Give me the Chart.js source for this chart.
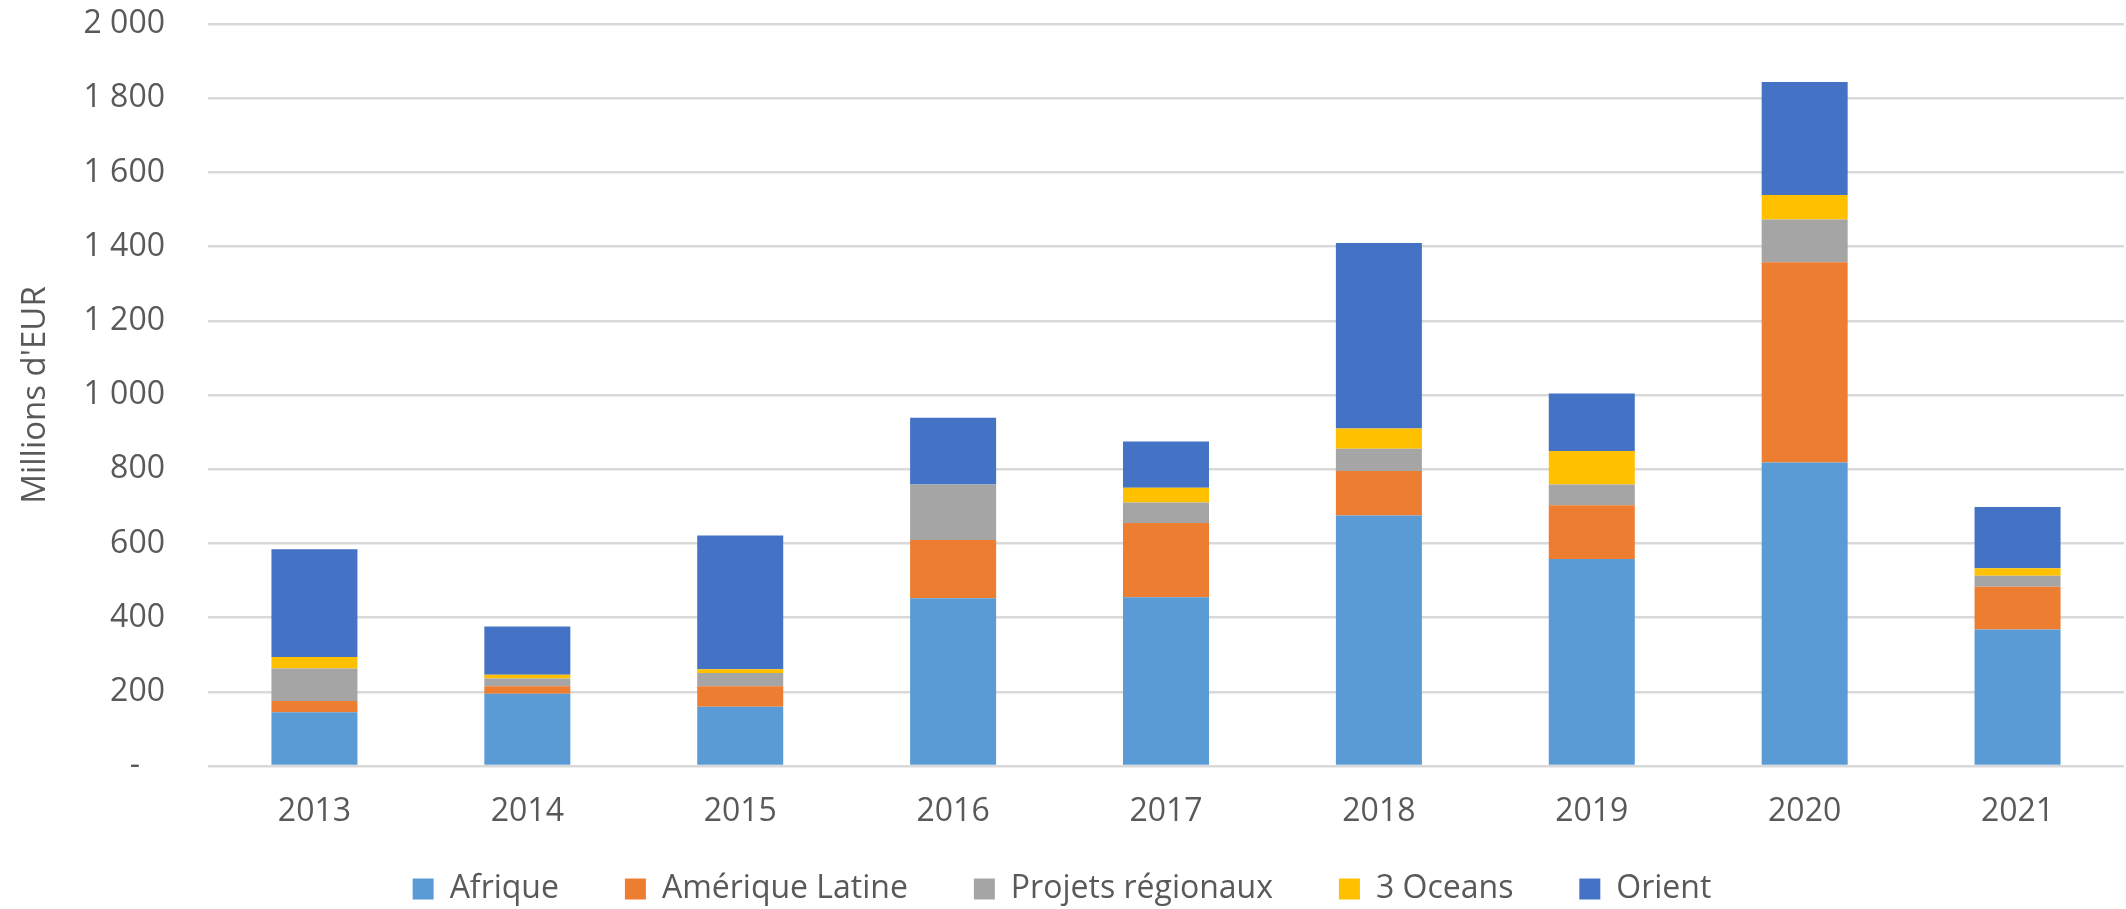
<!DOCTYPE html>
<html lang="fr">
<head>
<meta charset="utf-8">
<title>Millions d'EUR par région</title>
<script src="https://cdn.jsdelivr.net/npm/chart.js@4/dist/chart.umd.min.js"></script>
<style>
  html, body { margin: 0; padding: 0; background: #fff; }
  .contenitore { width: 2126px; height: 909px; position: relative; }
</style>
</head>
<body>
<div class="contenitore">
  <canvas id="grafico"></canvas>
</div>
<script>
const annees = ["2013", "2014", "2015", "2016", "2017", "2018", "2019", "2020", "2021"];

const afrique = [145, 195, 160, 452, 455, 675, 558, 818, 368];
const ameriqueLatine = [30, 20, 55, 157, 200, 120, 145, 540, 115];
const projetsRegionaux = [88, 21, 36, 150, 55, 60, 56, 115, 30];
const troisOceans = [31, 10, 10, 0, 40, 55, 90, 66, 20];
const orient = [290, 130, 360, 180, 125, 500, 155, 305, 165];

const yMin = 0;
const yMax = 2000;
const yPas = 200;

const grigio = '#595959';
const font = "'Open Sans', 'DejaVu Sans', sans-serif";

function formatMillier(v) {
    if (v === 0) {
        return '-   ';
    }
    return v.toString().replace(/\B(?=(\d{3})+(?!\d))/g, ' ');
}

const datiGrafico = {
    labels: annees,
    datasets: [
        { label: 'Afrique', data: afrique, backgroundColor: '#5B9BD5' },
        { label: 'Amérique Latine', data: ameriqueLatine, backgroundColor: '#ED7D31' },
        { label: 'Projets régionaux', data: projetsRegionaux, backgroundColor: '#A5A5A5' },
        { label: '3 Oceans', data: troisOceans, backgroundColor: '#FFC000' },
        { label: 'Orient', data: orient, backgroundColor: '#4472C4' }
    ]
};

const config = {
    type: 'bar',
    data: datiGrafico,
    options: {
        responsive: true,
        maintainAspectRatio: false,
        animation: false,
        datasets: {
            bar: {
                barPercentage: 0.404,
                categoryPercentage: 1.0
            }
        },
        layout: {
            padding: { top: 24, left: 0, right: 2, bottom: 0 }
        },
        plugins: {
            tooltip: { enabled: false },
            legend: {
                position: 'bottom',
                maxHeight: 77,
                labels: {
                    boxWidth: 21,
                    boxHeight: 21,
                    padding: 41,
                    color: grigio,
                    font: { family: font, size: 32 },
                    // un peu d'espace après chaque libellé (sauf le dernier), comme dans Excel
                    generateLabels: function (chart) {
                        const items = Chart.defaults.plugins.legend.labels.generateLabels(chart);
                        items.forEach((it, i) => {
                            if (i < items.length - 1) {
                                it.text = it.text + '   ';
                            }
                        });
                        return items;
                    }
                }
            }
        },
        scales: {
            x: {
                stacked: true,
                grid: { display: false, drawTicks: false },
                border: { display: false },
                ticks: {
                    color: grigio,
                    padding: 27,
                    font: { family: font, size: 32 }
                },
                afterFit: function (scala) {
                    scala.height = 66;
                }
            },
            y: {
                stacked: true,
                min: yMin,
                max: yMax,
                border: { display: false },
                grid: {
                    color: '#D9D9D9',
                    lineWidth: 2.5,
                    drawTicks: true,
                    tickLength: 39,
                    tickColor: 'rgba(0,0,0,0)'
                },
                ticks: {
                    stepSize: yPas,
                    color: grigio,
                    padding: 4,
                    font: { family: font, size: 32 },
                    callback: function (valore) {
                        return formatMillier(valore);
                    }
                },
                title: {
                    display: true,
                    text: "Millions d'EUR",
                    color: grigio,
                    padding: { top: 16, bottom: 0 },
                    font: { family: font, size: 33 }
                },
                afterFit: function (scala) {
                    scala.width = 208;
                }
            }
        }
    }
};

const canvasElement = document.getElementById('grafico');
if (canvasElement) {
    new Chart(canvasElement.getContext('2d'), config);
}
</script>
</body>
</html>
